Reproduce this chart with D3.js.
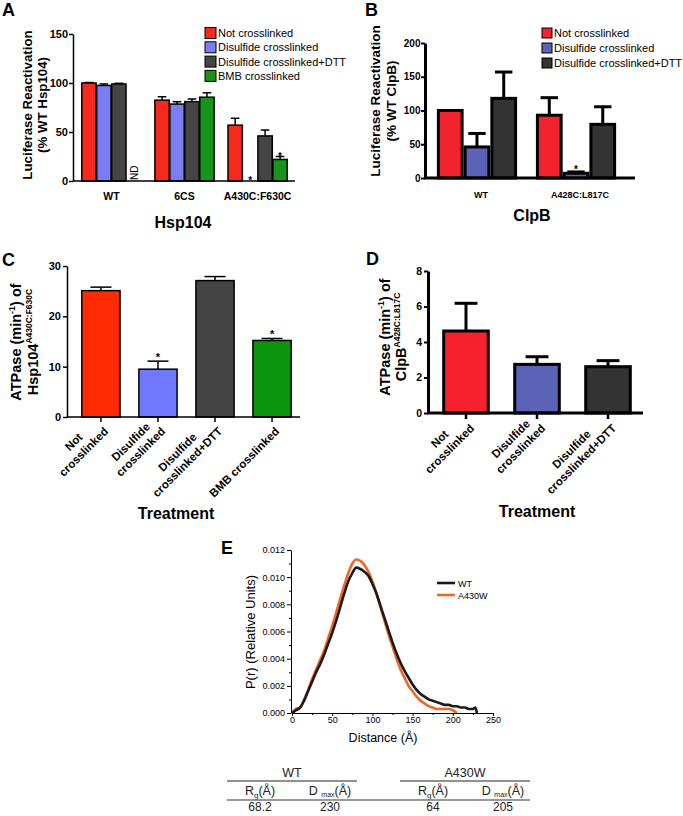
<!DOCTYPE html>
<html><head><meta charset="utf-8">
<script src="https://cdn.jsdelivr.net/npm/d3@7/dist/d3.min.js"></script>
<style>body{margin:0;background:#fff} svg{display:block}</style>
</head><body>
<svg id="c" width="683" height="816"></svg>
<script>
// ---------------- DATA ----------------
const groupsA = ["WT", "6CS", "A430C:F630C"];
const seriesA = ["Not crosslinked", "Disulfide crosslinked", "Disulfide crosslinked+DTT", "BMB crosslinked"];
const valuesA = [[100, 97.5, 99, null], [82.5, 78.5, 81, 85.5], [57, 0, 46, 22]];
const errorsA = [[0.5, 1.5, 0.7, null], [3.5, 2.4, 2.7, 4.5], [7, 0, 6, 3]];
const starsA = [[0, 0, 0, 0], [0, 0, 0, 0], [0, 1, 0, 1]];
const ticksA = [0, 50, 100, 150];

const groupsB = ["WT", "A428C:L817C"];
const seriesB = ["Not crosslinked", "Disulfide crosslinked", "Disulfide crosslinked+DTT"];
const valuesB = [[100, 46, 118], [93, 7, 79.5]];
const errorsB = [[0, 20, 39], [26, 2, 26]];
const starsB = [[0, 0, 0], [0, 1, 0]];
const ticksB = [0, 50, 100, 150, 200];

const treatC = [["Not", "crosslinked"], ["Disulfide", "crosslinked"], ["Disulfide", "crosslinked+DTT"], ["BMB crosslinked"]];
const valuesC = [25.1, 9.5, 27.1, 15.2];
const errorsC = [0.7, 1.6, 0.8, 0.4];
const starsC = [0, 1, 0, 1];
const ticksC = [0, 10, 20, 30];

const treatD = [["Not", "crosslinked"], ["Disulfide", "crosslinked"], ["Disulfide", "crosslinked+DTT"]];
const valuesD = [4.62, 2.74, 2.61];
const errorsD = [1.56, 0.43, 0.34];
const ticksD = [0, 2, 4, 6, 8];

const rWT = [0,5,10,15,20,25,30,35,40,45,50,55,60,65,70,75,80,85,90,95,100,105,110,115,120,125,130,135,140,145,150,155,160,165,170,175,180,185,190,195,200,205,210,215,220,225,228,230];
const pWT = [0,0.0002,0.0004,0.0009,0.0016,0.0023,0.0030,0.0036,0.0043,0.0051,0.0059,0.0068,0.0078,0.0088,0.0097,0.0103,0.0107,0.0106,0.0104,0.0101,0.0095,0.0088,0.0079,0.0070,0.0061,0.0052,0.0044,0.0037,0.0031,0.0026,0.0021,0.0017,0.0014,0.0012,0.0010,0.0009,0.0008,0.0007,0.0006,0.0006,0.0005,0.0005,0.0004,0.0004,0.0003,0.0003,0.0004,0];
const rMut = [0,5,10,15,20,25,30,35,40,45,50,55,60,65,70,75,80,85,90,95,100,105,110,115,120,125,130,135,140,145,150,155,160,165,170,175,180,185,190,195,200,205];
const pMut = [0,0.0003,0.0004,0.0010,0.0017,0.0025,0.0032,0.0039,0.0046,0.0055,0.0064,0.0074,0.0084,0.0094,0.0103,0.0110,0.0113,0.0112,0.0109,0.0104,0.0097,0.0088,0.0078,0.0068,0.0058,0.0049,0.0040,0.0032,0.0026,0.0020,0.0016,0.0012,0.0009,0.0007,0.0005,0.0004,0.0003,0.0003,0.0003,0.0003,0.0002,0];
const seriesE = ["WT", "A430W"];
const ticksEx = [0, 50, 100, 150, 200, 250];
const ticksEy = [0, 0.002, 0.004, 0.006, 0.008, 0.010, 0.012];

const tableGroups = ["WT", "A430W"];
const tableValues = [["68.2", "230"], ["64", "205"]];

// ---------------- STYLE ----------------
const FONT = '"Liberation Sans", Arial, Helvetica, sans-serif';
const colA = ["#f52a1c", "#7a7ef2", "#454545", "#17941a"];
const colB = ["#f2222e", "#5a63b5", "#333333"];
const colC = ["#ff2b05", "#7078ff", "#444444", "#0c930f"];
const colD = ["#f5222d", "#5a63b5", "#333333"];
const colE = ["#1a1a1a", "#f26522"];

const svg = d3.select("#c").attr("font-family", FONT);

function styleAxis(g, sw, fs, bold) {
  g.attr("font-family", FONT).attr("font-size", fs);
  g.selectAll("path.domain").attr("stroke", "#000").attr("stroke-width", sw);
  g.selectAll(".tick line").attr("stroke", "#000").attr("stroke-width", sw);
  g.selectAll(".tick text").attr("fill", "#000").attr("font-weight", bold ? "bold" : "normal");
}
function panelLetter(t, x, y) {
  svg.append("text").attr("x", x).attr("y", y).attr("font-size", 18).attr("font-weight", "bold").text(t);
}
function star(g, x, y, fs) {
  g.append("text").attr("x", x).attr("y", y).attr("text-anchor", "middle").attr("font-size", fs).attr("font-weight", "bold").text("*");
}
function errBar(g, cx, y0, y1, capW, sw) {
  g.append("line").attr("x1", cx).attr("x2", cx).attr("y1", y0).attr("y2", y1).attr("stroke", "#000").attr("stroke-width", sw);
  g.append("line").attr("x1", cx - capW / 2).attr("x2", cx + capW / 2).attr("y1", y1).attr("y2", y1).attr("stroke", "#000").attr("stroke-width", sw);
}
function rotLabel(g, lines, x, y, fs, lh) {
  const t = g.append("g").attr("transform", `translate(${x},${y}) rotate(-45)`);
  const n = lines.length;
  const tx = lines.map((s, i) => t.append("text").attr("font-size", fs).attr("font-weight", "bold")
    .attr("text-anchor", "middle").attr("y", -(n - 1 - i) * lh).text(s));
  const maxW = d3.max(tx, d => d.node().getComputedTextLength());
  tx.forEach(d => d.attr("x", -maxW / 2));
}

// ---------------- PANEL A ----------------
(function () {
  const g = svg.append("g");
  const y = d3.scaleLinear().domain([0, 150]).range([181, 34]);
  const x0 = d3.scaleBand().domain(groupsA).range([73, 296]).paddingInner(0.19).paddingOuter(0.12);
  const x1 = d3.scaleBand().domain(seriesA).range([0, x0.bandwidth()]).paddingInner(0.04);
  const w = x1.bandwidth();
  groupsA.forEach((gr, gi) => {
    seriesA.forEach((s, si) => {
      const v = valuesA[gi][si];
      const cx = x0(gr) + x1(s) + w / 2;
      if (v == null) {
        g.append("text").attr("transform", `translate(${cx + 4},180) rotate(-90)`).attr("font-size", 10).text("ND");
        return;
      }
      const e = errorsA[gi][si];
      if (e > 0) errBar(g, cx, y(v), y(v + e), w * 0.6, 1.5);
      if (v > 0) g.append("rect").attr("x", x0(gr) + x1(s)).attr("y", y(v)).attr("width", w).attr("height", y(0) - y(v))
        .attr("fill", colA[si]).attr("stroke", "#000").attr("stroke-width", 1.5);
      if (starsA[gi][si]) star(g, cx, v > 0 ? y(v + e) + 3 : y(0) + 3, 10);
    });
    g.append("text").attr("x", x0(gr) + x0.bandwidth() / 2).attr("y", 200).attr("text-anchor", "middle")
      .attr("font-size", 10.5).attr("font-weight", "bold").text(gr);
  });
  const ax = g.append("g").attr("transform", "translate(73,0)")
    .call(d3.axisLeft(y).tickValues(ticksA).tickSize(4).tickPadding(1).tickSizeOuter(0));
  styleAxis(ax, 1.5, 11, true);
  g.append("line").attr("x1", 73).attr("x2", 295).attr("y1", 181).attr("y2", 181).attr("stroke", "#000").attr("stroke-width", 1.5);
  const tt = g.append("g").attr("transform", "translate(32,105) rotate(-90)");
  tt.append("text").attr("text-anchor", "middle").attr("font-size", 13.3).attr("font-weight", "bold").text("Luciferase Reactivation");
  tt.append("text").attr("text-anchor", "middle").attr("y", 15).attr("font-size", 13.3).attr("font-weight", "bold").text("(% WT Hsp104)");
  g.append("text").attr("x", 183).attr("y", 228).attr("text-anchor", "middle").attr("font-size", 16).attr("font-weight", "bold").text("Hsp104");
  seriesA.forEach((s, i) => {
    const yy = 33 + i * 14.3;
    g.append("rect").attr("x", 205).attr("y", yy - 5.5).attr("width", 11).attr("height", 11).attr("fill", colA[i]).attr("stroke", "#000").attr("stroke-width", 1);
    g.append("text").attr("x", 218).attr("y", yy + 4).attr("font-size", 11).text(s);
  });
  panelLetter("A", 2, 16);
})();

// ---------------- PANEL B ----------------
(function () {
  const g = svg.append("g");
  const y = d3.scaleLinear().domain([0, 200]).range([178, 43]);
  const x0 = d3.scaleBand().domain(groupsB).range([425, 628]).paddingInner(0.19).paddingOuter(0.12);
  const x1 = d3.scaleBand().domain(seriesB).range([0, x0.bandwidth()]).paddingInner(0);
  const w = x1.bandwidth();
  groupsB.forEach((gr, gi) => {
    seriesB.forEach((s, si) => {
      const v = valuesB[gi][si], e = errorsB[gi][si];
      const cx = x0(gr) + x1(s) + w / 2;
      if (e > 0) errBar(g, cx, y(v), y(v + e), w * 0.65, 3);
      g.append("rect").attr("x", x0(gr) + x1(s) + 1.5).attr("y", y(v)).attr("width", w - 3).attr("height", y(0) - y(v))
        .attr("fill", colB[si]).attr("stroke", "#000").attr("stroke-width", 3);
      if (starsB[gi][si]) star(g, cx, y(v + e) + 1, 10);
    });
    g.append("text").attr("x", x0(gr) + x0.bandwidth() / 2 + 4).attr("y", 198).attr("text-anchor", "middle")
      .attr("font-size", 9).attr("font-weight", "bold").text(gr);
  });
  const ax = g.append("g").attr("transform", "translate(425,0)")
    .call(d3.axisLeft(y).tickValues(ticksB).tickSize(4).tickPadding(0.5).tickSizeOuter(0));
  styleAxis(ax, 3, 10, true);
  ax.selectAll(".tick line").attr("stroke-width", 2);
  g.append("line").attr("x1", 424).attr("x2", 635).attr("y1", 178).attr("y2", 178).attr("stroke", "#000").attr("stroke-width", 3);
  const tt = g.append("g").attr("transform", "translate(380,101) rotate(-90)");
  tt.append("text").attr("text-anchor", "middle").attr("font-size", 13.5).attr("font-weight", "bold").text("Luciferase Reactivation");
  tt.append("text").attr("text-anchor", "middle").attr("y", 15.5).attr("font-size", 13.5).attr("font-weight", "bold").text("(% WT ClpB)");
  g.append("text").attr("x", 532).attr("y", 221).attr("text-anchor", "middle").attr("font-size", 16).attr("font-weight", "bold").text("ClpB");
  seriesB.forEach((s, i) => {
    const yy = 33 + i * 15;
    g.append("rect").attr("x", 542).attr("y", yy - 5).attr("width", 10).attr("height", 10).attr("fill", colB[i]).attr("stroke", "#000").attr("stroke-width", 1);
    g.append("text").attr("x", 554).attr("y", yy + 4).attr("font-size", 11).text(s);
  });
  panelLetter("B", 365, 16);
})();

// ---------------- PANEL C ----------------
(function () {
  const g = svg.append("g");
  const y = d3.scaleLinear().domain([0, 30]).range([417, 266]);
  const x = d3.scaleBand().domain(d3.range(valuesC.length)).range([67, 306]).paddingInner(0.33).paddingOuter(0.26);
  const w = x.bandwidth();
  valuesC.forEach((v, i) => {
    const cx = x(i) + w / 2, e = errorsC[i];
    errBar(g, cx, y(v), y(v + e), w * 0.55, 1.5);
    g.append("rect").attr("x", x(i)).attr("y", y(v)).attr("width", w).attr("height", y(0) - y(v))
      .attr("fill", colC[i]).attr("stroke", "#000").attr("stroke-width", 1.5);
    if (starsC[i]) star(g, cx, y(v + e) + 0, 11);
    g.append("line").attr("x1", cx).attr("x2", cx).attr("y1", 417).attr("y2", 422).attr("stroke", "#000").attr("stroke-width", 1.5);
    rotLabel(g, treatC[i], cx + 8, 432, 11.5, 14);
  });
  const ax = g.append("g").attr("transform", "translate(67,0)")
    .call(d3.axisLeft(y).tickValues(ticksC).tickSize(4).tickPadding(2).tickSizeOuter(0));
  styleAxis(ax, 1.5, 11, true);
  g.append("line").attr("x1", 67).attr("x2", 300).attr("y1", 417).attr("y2", 417).attr("stroke", "#000").attr("stroke-width", 1.5);
  const tt = g.append("g").attr("transform", "translate(21,342) rotate(-90)");
  const t1 = tt.append("text").attr("text-anchor", "middle").attr("font-size", 14.5).attr("font-weight", "bold");
  t1.append("tspan").text("ATPase (min");
  t1.append("tspan").attr("font-size", 9).attr("dy", -6).text("-1");
  t1.append("tspan").attr("dy", 6).text(") of");
  const t2 = tt.append("text").attr("text-anchor", "middle").attr("y", 17).attr("font-size", 14.5).attr("font-weight", "bold");
  t2.append("tspan").text("Hsp104");
  t2.append("tspan").attr("font-size", 8.5).attr("dy", -6).text("A430C:F630C");
  g.append("text").attr("x", 176).attr("y", 519).attr("text-anchor", "middle").attr("font-size", 16).attr("font-weight", "bold").text("Treatment");
  panelLetter("C", 2, 266);
})();

// ---------------- PANEL D ----------------
(function () {
  const g = svg.append("g");
  const y = d3.scaleLinear().domain([0, 8]).range([413, 271]);
  const x = d3.scaleBand().domain(d3.range(valuesD.length)).range([428, 646]).paddingInner(0.33).paddingOuter(0.2);
  const w = x.bandwidth();
  valuesD.forEach((v, i) => {
    const cx = x(i) + w / 2, e = errorsD[i];
    errBar(g, cx, y(v), y(v + e), w * 0.48, 3);
    g.append("rect").attr("x", x(i) + 1.5).attr("y", y(v)).attr("width", w - 3).attr("height", y(0) - y(v))
      .attr("fill", colD[i]).attr("stroke", "#000").attr("stroke-width", 3);
    g.append("line").attr("x1", cx).attr("x2", cx).attr("y1", 413).attr("y2", 419).attr("stroke", "#000").attr("stroke-width", 2.5);
    rotLabel(g, treatD[i], cx + 9, 429, 11.5, 14);
  });
  const ax = g.append("g").attr("transform", "translate(428,0)")
    .call(d3.axisLeft(y).tickValues(ticksD).tickSize(4).tickPadding(2).tickSizeOuter(0));
  styleAxis(ax, 3, 10.5, true);
  ax.selectAll(".tick line").attr("stroke-width", 2);
  g.append("line").attr("x1", 427).attr("x2", 643).attr("y1", 413).attr("y2", 413).attr("stroke", "#000").attr("stroke-width", 3);
  const tt = g.append("g").attr("transform", "translate(390,337) rotate(-90)");
  const t1 = tt.append("text").attr("text-anchor", "middle").attr("font-size", 14.5).attr("font-weight", "bold");
  t1.append("tspan").text("ATPase (min");
  t1.append("tspan").attr("font-size", 9).attr("dy", -6).text("-1");
  t1.append("tspan").attr("dy", 6).text(") of");
  const t2 = tt.append("text").attr("text-anchor", "middle").attr("y", 16).attr("font-size", 14.5).attr("font-weight", "bold");
  t2.append("tspan").text("ClpB");
  t2.append("tspan").attr("font-size", 8.5).attr("dy", -6).text("A428C:L817C");
  g.append("text").attr("x", 537).attr("y", 517).attr("text-anchor", "middle").attr("font-size", 16).attr("font-weight", "bold").text("Treatment");
  panelLetter("D", 366, 265);
})();

// ---------------- PANEL E ----------------
(function () {
  const g = svg.append("g");
  const x = d3.scaleLinear().domain([0, 250]).range([292, 493]);
  const y = d3.scaleLinear().domain([0, 0.012]).range([713, 550]);
  const line = d3.line().x(d => x(d[0])).y(d => y(d[1])).curve(d3.curveMonotoneX);
  const dMut = rMut.map((r, i) => [r, pMut[i]]);
  const dWT = rWT.map((r, i) => [r, pWT[i]]);
  g.append("path").attr("d", line(dMut)).attr("fill", "none").attr("stroke", colE[1]).attr("stroke-width", 2.6);
  g.append("path").attr("d", line(dWT)).attr("fill", "none").attr("stroke", colE[0]).attr("stroke-width", 2.6);

  const ay = g.append("g").attr("transform", "translate(291,0)")
    .call(d3.axisLeft(y).tickValues(ticksEy).tickFormat(d3.format(".3f")).tickSize(4).tickPadding(2).tickSizeOuter(0));
  styleAxis(ay, 1, 9, false);
  const minorY = d3.range(0.001, 0.012, 0.002);
  g.append("g").attr("transform", "translate(291,0)")
    .call(d3.axisLeft(y).tickValues(minorY).tickFormat("").tickSize(2).tickSizeOuter(0))
    .call(s => s.select(".domain").remove()).selectAll("line").attr("stroke", "#000");
  const axx = g.append("g").attr("transform", "translate(0,713)")
    .call(d3.axisBottom(x).tickValues(ticksEx).tickSize(3).tickPadding(1).tickSizeOuter(0));
  styleAxis(axx, 1, 9, false);
  g.append("g").attr("transform", "translate(0,713)")
    .call(d3.axisBottom(x).tickValues([25, 75, 125, 175, 225]).tickFormat("").tickSize(2).tickSizeOuter(0))
    .call(s => s.select(".domain").remove()).selectAll("line").attr("stroke", "#000");

  g.append("text").attr("transform", "translate(255,632) rotate(-90)").attr("text-anchor", "middle").attr("font-size", 13).text("P(r) (Relative Units)");
  g.append("text").attr("x", 383).attr("y", 742).attr("text-anchor", "middle").attr("font-size", 12.5).text("Distance (Å)");
  seriesE.forEach((s, i) => {
    const yy = 583 + i * 12;
    g.append("line").attr("x1", 437).attr("x2", 455).attr("y1", yy).attr("y2", yy).attr("stroke", colE[i]).attr("stroke-width", 2.6);
    g.append("text").attr("x", 458).attr("y", yy + 3.5).attr("font-size", 9).text(s);
  });
  panelLetter("E", 221, 554);

  // table
  const t = svg.append("g").attr("fill", "#222");
  const cols = [[227, 357], [400, 530]];
  tableGroups.forEach((gr, i) => {
    const [a, b] = cols[i];
    t.append("text").attr("x", (a + b) / 2).attr("y", 777).attr("text-anchor", "middle").attr("font-size", 12.5).text(gr);
    t.append("line").attr("x1", a).attr("x2", b).attr("y1", 781).attr("y2", 781).attr("stroke", "#222").attr("stroke-width", 1);
    const c1 = a + 33, c2 = a + 103;
    const h1 = t.append("text").attr("x", c1).attr("y", 795).attr("text-anchor", "middle").attr("font-size", 12.5);
    h1.append("tspan").text("R");
    h1.append("tspan").attr("font-size", 8).attr("dy", 3).text("g");
    h1.append("tspan").attr("dy", -3).text("(Å)");
    const h2 = t.append("text").attr("x", c2).attr("y", 795).attr("text-anchor", "middle").attr("font-size", 12.5);
    h2.append("tspan").text("D ");
    h2.append("tspan").attr("font-size", 7).attr("dy", 2).text("max");
    h2.append("tspan").attr("dy", -2).text("(Å)");
    t.append("text").attr("x", c1).attr("y", 811).attr("text-anchor", "middle").attr("font-size", 12).text(tableValues[i][0]);
    t.append("text").attr("x", c2).attr("y", 811).attr("text-anchor", "middle").attr("font-size", 12).text(tableValues[i][1]);
  });
  t.append("line").attr("x1", 227).attr("x2", 530).attr("y1", 800).attr("y2", 800).attr("stroke", "#777").attr("stroke-width", 1.6);
})();
</script>
</body></html>
